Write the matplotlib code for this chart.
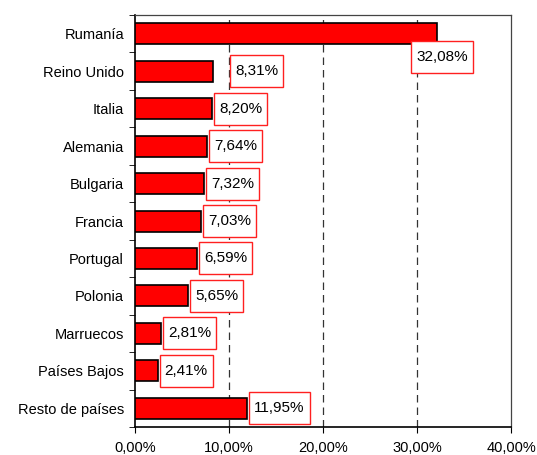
import numpy as np
import matplotlib
matplotlib.use("Agg")
import matplotlib.pyplot as plt
from matplotlib.patches import Rectangle
from matplotlib.ticker import FixedLocator
from matplotlib.transforms import IdentityTransform

plt.rcParams['font.family'] = ['Liberation Sans', 'DejaVu Sans']

paises = ["Rumanía", "Reino Unido", "Italia", "Alemania", "Bulgaria", "Francia",
          "Portugal", "Polonia", "Marruecos", "Países Bajos", "Resto de países"]
valores = [32.08, 8.31, 8.20, 7.64, 7.32, 7.03, 6.59, 5.65, 2.81, 2.41, 11.95]
xticks = [0, 10, 20, 30, 40]

fig = plt.figure(figsize=(5.37, 4.55), dpi=100)
ax = fig.add_axes([0.2514, 0.0615, 0.7002, 0.9055])

y = np.arange(len(paises))
ax.barh(y, valores, height=0.56, color="#ff0000", edgecolor="black", linewidth=1.2, zorder=3)
ax.set_ylim(len(paises) - 0.5, -0.5)
ax.set_xlim(0, 40)
ax.set_yticks(y)
ax.set_yticklabels(paises, fontsize=10.5)
ax.yaxis.set_minor_locator(FixedLocator(np.arange(-0.5, len(paises), 1)))
ax.tick_params(axis="y", which="major", length=0, pad=8)
ax.tick_params(axis="y", which="minor", length=4, direction="out")
ax.set_xticks(xticks)
ax.set_xticklabels([f"{v:.2f}%".replace(".", ",") for v in xticks], fontsize=10.5)
ax.tick_params(axis="x", length=4, direction="out", pad=6)

for v in xticks[1:-1]:
    ax.axvline(v, color="#333333", linestyle=(0, (6, 4)), linewidth=0.9, zorder=1)
for s in ["left", "bottom"]:
    ax.spines[s].set_linewidth(1.2)
for s in ["top", "right"]:
    ax.spines[s].set_color("#444444")
    ax.spines[s].set_linewidth(0.9)

# label offsets in points (Excel moved a couple by hand)
offsets = {0: (-14.5, -17), 1: (16, 0)}
texts = []
for i, v in enumerate(valores):
    lab = f"{v:.2f}%".replace(".", ",")
    dx, dy = offsets.get(i, (5, 0))
    t = ax.annotate(lab, (v, i), xytext=(dx, dy), textcoords="offset points",
                    va="center", ha="left", fontsize=11, zorder=6, annotation_clip=False)
    texts.append(t)

fig.canvas.draw()
r = fig.canvas.get_renderer()
for t in texts:
    bb = t.get_window_extent(r)
    padx, pady = 5, 9
    rect = Rectangle((bb.x0 - padx, bb.y0 - pady), bb.width + 2 * padx, bb.height + 2 * pady,
                     transform=IdentityTransform(), facecolor="white", edgecolor="#ff2020",
                     linewidth=1.0, zorder=5, clip_on=False)
    ax.add_patch(rect)

fig.savefig("out.png", dpi=100)
